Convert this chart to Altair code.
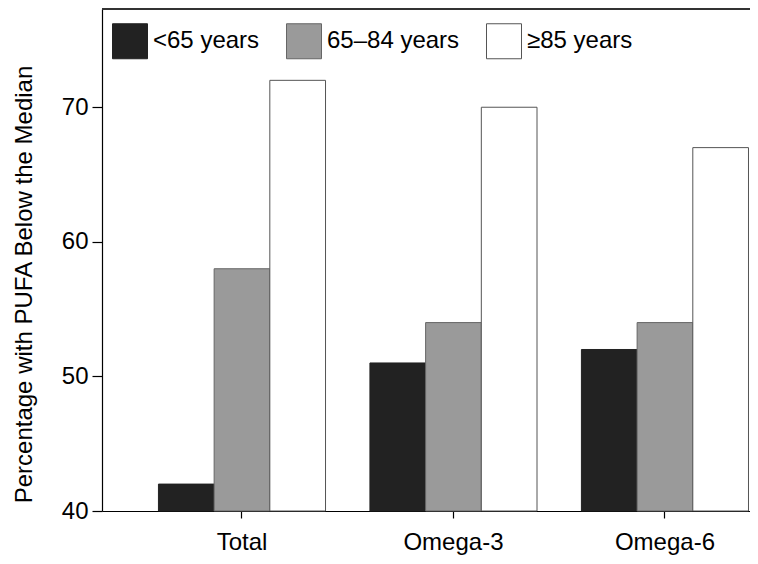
import altair as alt
import pandas as pd

categories = ["Total", "Omega-3", "Omega-6"]
groups = ["<65 years", "65–84 years", "≥85 years"]
values_lt65 = [42, 51, 52]
values_65_84 = [58, 54, 54]
values_ge85 = [72, 70, 67]

rows = []
for i, c in enumerate(categories):
    for g, vals in zip(groups, [values_lt65, values_65_84, values_ge85]):
        rows.append({"category": c, "group": g, "value": vals[i]})
df = pd.DataFrame(rows)

FONT = "Liberation Sans"
FS = 24
W, H = 648, 502

bars = alt.Chart(df).mark_bar(strokeWidth=1).encode(
    x=alt.X("category:N", sort=categories, title=None,
            scale=alt.Scale(paddingInner=0.21, paddingOuter=0.137, align=0.974),
            axis=alt.Axis(labelAngle=0, labelFontSize=FS, labelFont=FONT, labelColor="black",
                          tickSize=7, tickColor="black", domainColor="black",
                          labelPadding=12, tickWidth=1.2)),
    xOffset=alt.XOffset("group:N", sort=groups, scale=alt.Scale(paddingInner=0, paddingOuter=0)),
    y=alt.Y("value:Q", title="Percentage with PUFA Below the Median",
            scale=alt.Scale(domain=[40, 77.3], zero=False, nice=False),
            axis=alt.Axis(values=[40, 50, 60, 70], grid=False, labelFontSize=FS, labelFont=FONT,
                          labelColor="black", titleFontSize=FS, titleFont=FONT,
                          titleFontWeight="normal", titleColor="black", tickSize=10,
                          tickColor="black", domainColor="black", labelPadding=4,
                          titlePadding=25, titleY=275, tickWidth=1.2, domainWidth=1.2)),
    y2=alt.Y2(datum=40),
    color=alt.Color("group:N", sort=groups,
                    scale=alt.Scale(domain=groups, range=["#222222", "#9a9a9a", "#ffffff"]),
                    legend=alt.Legend(title=None, orient="none", legendX=10, legendY=14,
                                      direction="horizontal", symbolType="square",
                                      symbolSize=1225, symbolStrokeColor="#666666",
                                      symbolStrokeWidth=1, labelFontSize=FS, labelFont=FONT,
                                      labelColor="black", labelOffset=5, columnPadding=24,
                                      symbolOpacity=1)),
    stroke=alt.Stroke("group:N", sort=groups,
                      scale=alt.Scale(domain=groups, range=["#222222", "#666666", "#555555"]),
                      legend=None),
)

top_line = alt.Chart(df).mark_rule(color="#333333", strokeWidth=2).encode(
    x=alt.value(0), x2=alt.value(W), y=alt.value(0)
)

chart = alt.layer(bars, top_line).properties(
    width=W, height=H,
    autosize=alt.AutoSizeParams(type="none"),
    padding={"left": 94, "top": 1, "right": 0, "bottom": 45},
).configure_view(stroke=None).configure_axis(domainWidth=1.2)

chart.save("out.html", embed_options={"renderer": "svg", "actions": False})
